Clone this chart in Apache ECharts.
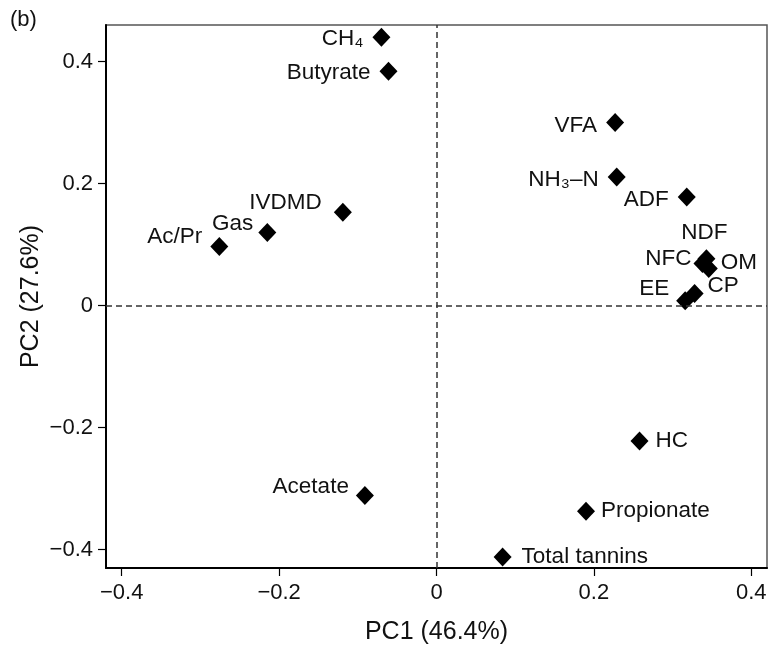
<!DOCTYPE html>
<html><head><meta charset="utf-8">
<script src="https://cdn.jsdelivr.net/npm/echarts@6/dist/echarts.min.js"></script>
<style>html,body{margin:0;padding:0;background:#fff}#c{width:768px;height:646px}</style>
</head><body><div id="c"></div>
<script>
const names = ['CH₄','Butyrate','VFA','NH₃–N','ADF','IVDMD','Gas','Ac/Pr','NDF','NFC','OM','CP','EE','HC','Propionate','Acetate','Total tannins'];
const pc1 = [-0.070,-0.061,0.227,0.229,0.318,-0.119,-0.215,-0.276,0.343,0.338,0.346,0.328,0.316,0.258,0.190,-0.091,0.084];
const pc2 = [0.440,0.384,0.300,0.211,0.178,0.153,0.120,0.097,0.077,0.069,0.061,0.020,0.008,-0.222,-0.337,-0.311,-0.412];
const xTicks = [-0.4,-0.2,0,0.2,0.4];
const yTicks = [-0.4,-0.2,0,0.2,0.4];
const xTitle = 'PC1 (46.4%)';
const yTitle = 'PC2 (27.6%)';
const panel = '(b)';

// label placement (style only): [position, distance, offset]
const labelStyle = {
  'CH₄':['left',9,[0,2]], 'Butyrate':['left',9,[0,1]], 'VFA':['left',9,[0,3]],
  'NH₃–N':['left',9,[0,3]], 'ADF':['left',9,[0,3]], 'IVDMD':['left',12,[0,-10]],
  'Gas':['left',5,[0,-9]], 'Ac/Pr':['left',8,[0,-10]], 'NDF':['top',5,[-2,0]],
  'NFC':['left',2,[0,-5]], 'OM':['right',3,[0,-6]], 'CP':['right',4,[0,-8]],
  'EE':['left',7,[0,-12]], 'HC':['right',7,[0,0]], 'Propionate':['right',6,[0,0]],
  'Acetate':['left',7,[0,-9]], 'Total tannins':['right',10,[0,0]]
};
const fmt = v => (Math.abs(v) < 1e-9 ? '0' : String(+v.toFixed(1)).replace('-', '−'));
const FONT = 'Liberation Sans, Arial, sans-serif';
const data = names.map((n,i) => {
  const s = labelStyle[n];
  return {name:n, value:[pc1[i],pc2[i]], label:{position:s[0], distance:s[1], offset:s[2]}};
});
const chart = echarts.init(document.getElementById('c'));
chart.setOption({
  animation:false,
  backgroundColor:'#fff',
  textStyle:{fontFamily:FONT},
  title:{text:panel, left:5, top:4, textStyle:{fontSize:22, fontWeight:'normal', color:'#111', fontFamily:FONT}},
  grid:{left:106, right:1, top:25, bottom:78, show:true, borderColor:'#555', borderWidth:1.5,
    outerBoundsMode:'none', containLabel:false},
  xAxis:{type:'value', min:-0.42, max:0.42,
    name:xTitle, nameLocation:'middle', nameGap:52, nameTextStyle:{fontSize:25, color:'#111'},
    axisLine:{show:true, onZero:false, lineStyle:{color:'#000', width:2}},
    axisTick:{show:true, length:8, customValues:xTicks, lineStyle:{color:'#000', width:1.2}},
    axisLabel:{customValues:xTicks, formatter:fmt, fontSize:22, color:'#111', margin:14},
    splitLine:{show:false}},
  yAxis:{type:'value', min:-0.43, max:0.46,
    name:yTitle, nameLocation:'middle', nameGap:62, nameRotate:90, nameMoveOverlap:false,
    nameTextStyle:{fontSize:25, color:'#111'},
    axisLine:{show:true, onZero:false, lineStyle:{color:'#000', width:2}},
    axisTick:{show:true, length:8, customValues:yTicks, lineStyle:{color:'#000', width:1.2}},
    axisLabel:{customValues:yTicks, formatter:fmt, fontSize:22, color:'#111', margin:13},
    splitLine:{show:false}},
  series:[{
    type:'scatter', symbol:'diamond', symbolSize:[18,19],
    itemStyle:{color:'#000', opacity:1},
    label:{show:true, formatter:'{b}', fontSize:22.5, color:'#111', fontFamily:FONT},
    emphasis:{disabled:true},
    data:data,
    markLine:{silent:true, symbol:'none', label:{show:false},
      lineStyle:{type:[6,4], color:'#333', width:1.5},
      data:[{xAxis:0},{yAxis:0}]}
  }]
});
</script></body></html>
